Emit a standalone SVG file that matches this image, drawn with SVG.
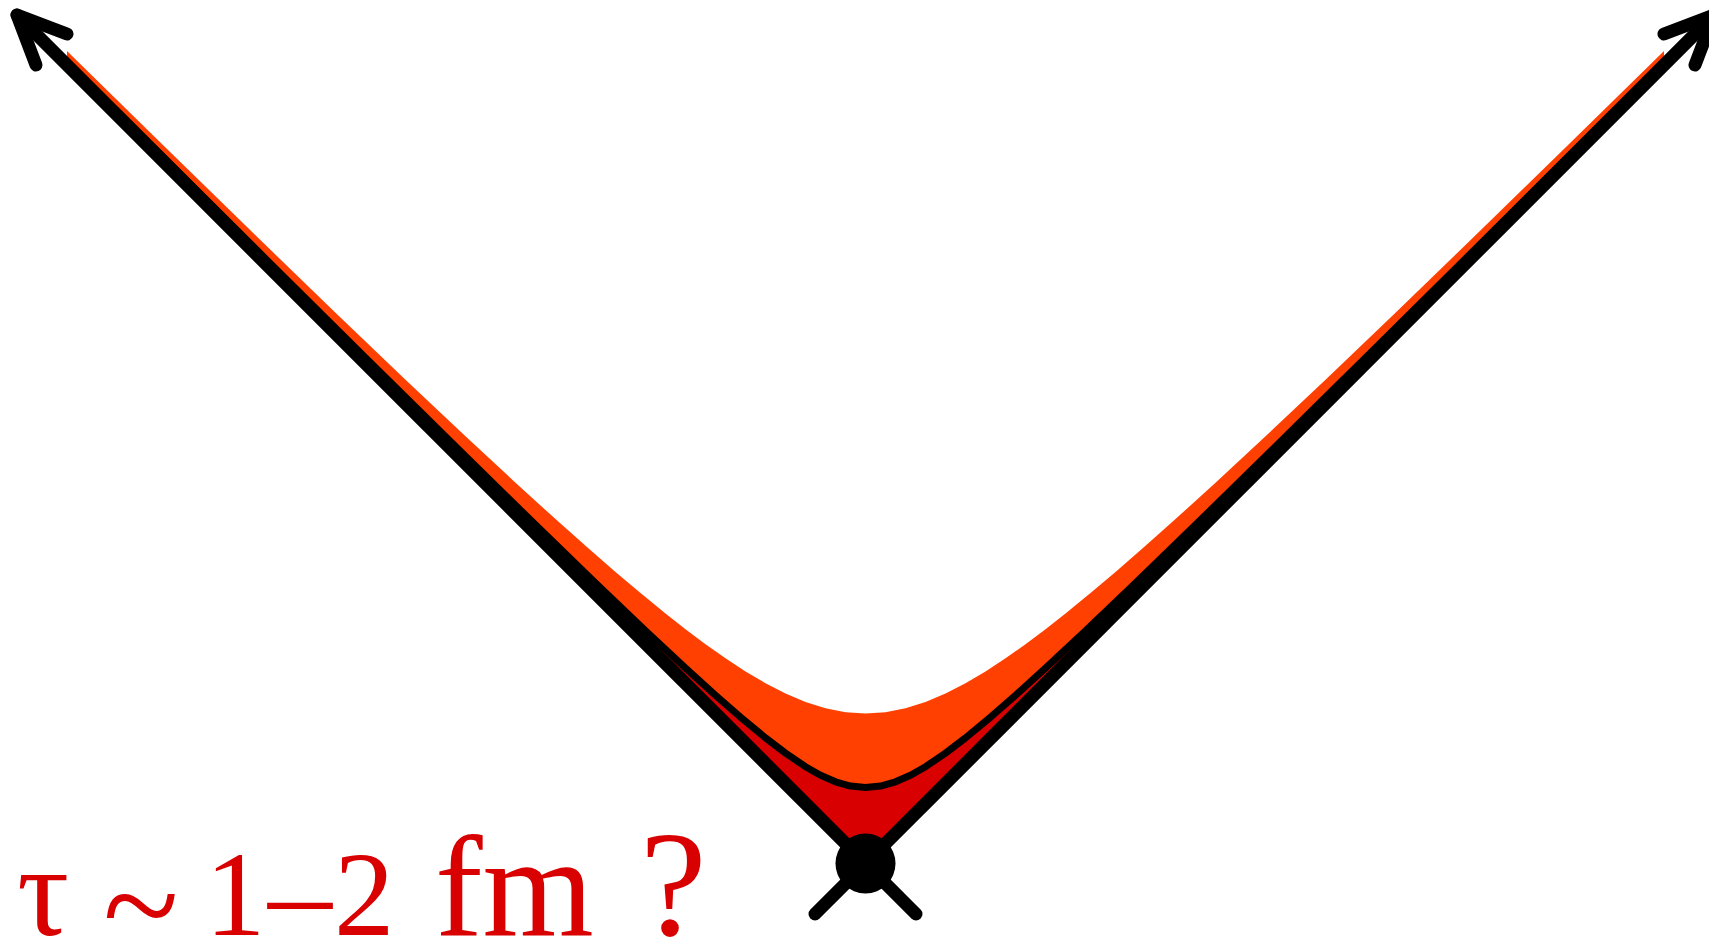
<svg xmlns="http://www.w3.org/2000/svg" width="1709" height="941" viewBox="0 0 1709 941">
<style>
.ln{fill:none;stroke:#000;stroke-width:13;stroke-linecap:round;stroke-linejoin:round}
.lbl{font-family:"Liberation Serif","Times New Roman",serif;fill:#D80000}
</style>
<rect width="1709" height="941" fill="#fff"/>
<g id="outer-region">
<path fill="#FF4000" d="M67,65 L67,51.03 L165.5,147.61 L255.5,235.33 L335.5,312.68 L405.5,379.66 L465.5,436.3 L515.5,482.71 L555.5,519.12 L585.5,545.85 L615.5,571.95 L640.5,593.08 L665.5,613.5 L685.5,629.19 L705.5,644.18 L725.5,658.32 L745.5,671.41 L765.5,683.22 L785.5,693.5 L805.5,701.95 L825.5,708.26 L845.5,712.17 L865.5,713.5 L885.5,712.17 L905.5,708.26 L925.5,701.95 L945.5,693.5 L965.5,683.22 L985.5,671.41 L1005.5,658.32 L1025.5,644.18 L1045.5,629.19 L1065.5,613.5 L1090.5,593.08 L1115.5,571.95 L1145.5,545.85 L1175.5,519.12 L1215.5,482.71 L1265.5,436.3 L1325.5,379.66 L1395.5,312.68 L1475.5,235.33 L1565.5,147.61 L1664,51.03 L1664,65 L865.5,863.5 Z"/>
</g>
<g id="inner-region">
<path fill="#D80000" d="M115.5,113.5 L115.5,109.66 L265.5,258.71 L365.5,357.76 L465.5,456.34 L535.5,524.86 L595.5,583.01 L645.5,630.74 L685.5,668.11 L715.5,695.35 L740.5,717.21 L765.5,737.9 L785.5,753.15 L805.5,766.67 L820.5,775.18 L835.5,781.79 L850.5,786.03 L865.5,787.5 L880.5,786.03 L895.5,781.79 L910.5,775.18 L925.5,766.67 L945.5,753.15 L965.5,737.9 L990.5,717.21 L1015.5,695.35 L1045.5,668.11 L1085.5,630.74 L1135.5,583.01 L1195.5,524.86 L1265.5,456.34 L1365.5,357.76 L1465.5,258.71 L1615.5,109.66 L1615.5,113.5 L865.5,863.5 Z"/>
<path fill="none" stroke="#000" stroke-width="7" stroke-linejoin="round" d="M115.5,109.66 L265.5,258.71 L365.5,357.76 L465.5,456.34 L535.5,524.86 L595.5,583.01 L645.5,630.74 L685.5,668.11 L715.5,695.35 L740.5,717.21 L765.5,737.9 L785.5,753.15 L805.5,766.67 L820.5,775.18 L835.5,781.79 L850.5,786.03 L865.5,787.5 L880.5,786.03 L895.5,781.79 L910.5,775.18 L925.5,766.67 L945.5,753.15 L965.5,737.9 L990.5,717.21 L1015.5,695.35 L1045.5,668.11 L1085.5,630.74 L1135.5,583.01 L1195.5,524.86 L1265.5,456.34 L1365.5,357.76 L1465.5,258.71 L1615.5,109.66"/>
</g>
<g id="connectors">
<path class="ln" d="M17,15 L916,914"/>
<path class="ln" d="M1714,15 L815,914"/>
<path class="ln" d="M67,34 L17,15 L36,65"/>
<path class="ln" d="M1664,34 L1714,15 L1695,65"/>
</g>
<g id="vertex">
<circle cx="865.5" cy="863.5" r="30" fill="#000"/>
</g>
<g id="label">
<text class="lbl" x="17" y="935" font-size="130">τ</text>
<text class="lbl" x="103" y="952" font-size="140">~</text>
<text class="lbl" x="205" y="935" font-size="121">1</text>
<text class="lbl" x="268" y="935" font-size="128">–</text>
<text class="lbl" x="334" y="935" font-size="121">2</text>
<text class="lbl" x="435" y="935" font-size="143">fm</text>
<text class="lbl" x="640" y="935" font-size="150">?</text>
</g>
</svg>
